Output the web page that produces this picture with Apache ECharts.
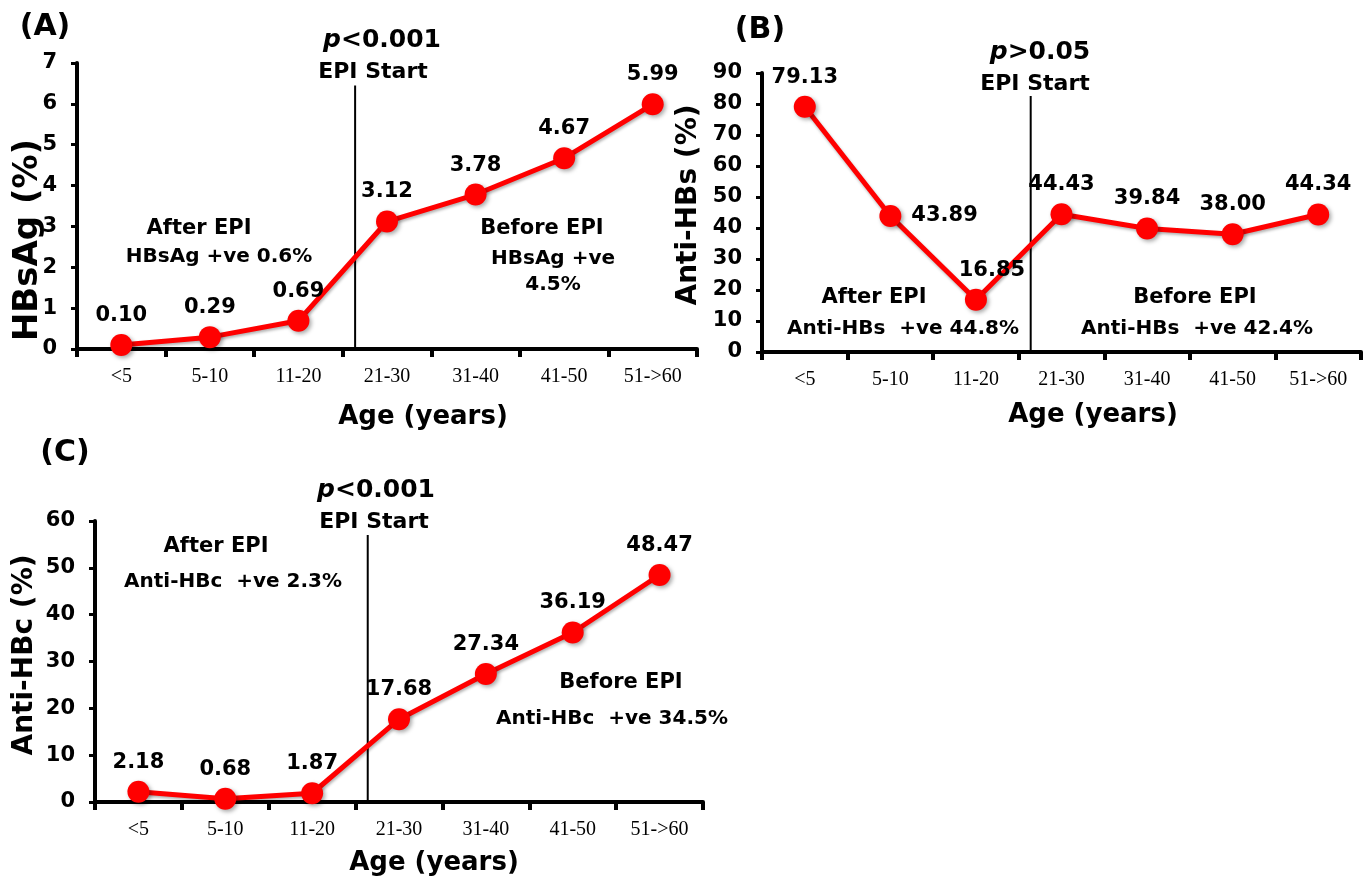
<!DOCTYPE html>
<html>
<head>
<meta charset="utf-8">
<script src="https://cdn.jsdelivr.net/npm/echarts@6/dist/echarts.min.js"></script>
<style>
html,body{margin:0;padding:0;background:#fff;}
#chart{width:1364px;height:878px;}
</style>
</head>
<body>
<div id="chart"></div>
<script>
// ---- data ----
const ageGroups = ['<5', '5-10', '11-20', '21-30', '31-40', '41-50', '51->60'];
const hbsag    = [0.10, 0.29, 0.69, 3.12, 3.78, 4.67, 5.99];
const antiHbs  = [79.13, 43.89, 16.85, 44.43, 39.84, 38.00, 44.34];
const antiHbc  = [2.18, 0.68, 1.87, 17.68, 27.34, 36.19, 48.47];
const yTicksA  = { min: 0, max: 7, interval: 1 };
const yTicksB  = { min: 0, max: 90, interval: 10 };
const yTicksC  = { min: 0, max: 60, interval: 10 };
// EPI start marker position, in category units, and top of marker line (axis units)
const epiPos   = 2.64;
const epiTop   = [6.45, 82.6, 57];

const BOLD = '"DejaVu Sans", sans-serif';
const RED = '#ff0000';

const chart = echarts.init(document.getElementById('chart'), null, { renderer: 'canvas' });

const grids = [
  { left: 77, top: 63, width: 620, height: 286 },
  { left: 762, top: 73, width: 599, height: 279 },
  { left: 95, top: 521, width: 608, height: 281 }
];

function catAxis(gi) {
  return {
    type: 'category', gridIndex: gi, data: ageGroups, boundaryGap: true,
    axisLine: { onZero: false, lineStyle: { color: '#000', width: 4 } },
    axisTick: { show: true, length: 8, lineStyle: { color: '#000', width: 4 } },
    axisLabel: { color: '#000', fontFamily: '"Liberation Serif", "Times New Roman", serif', fontSize: 20, margin: 18 },
    splitLine: { show: false }
  };
}
function hiddenX(gi) {
  return { type: 'value', gridIndex: gi, min: -0.5, max: 6.5, show: false };
}
function valAxis(gi, t) {
  return {
    type: 'value', gridIndex: gi, min: t.min, max: t.max, interval: t.interval,
    axisLine: { show: true, onZero: false, lineStyle: { color: '#000', width: 4 } },
    axisTick: { show: true, length: 6, lineStyle: { color: '#000', width: 3 } },
    axisLabel: { color: '#000', fontFamily: BOLD, fontWeight: 'bold', fontSize: 21, margin: 20 },
    splitLine: { show: false }
  };
}

const labelStyle = {
  show: true, position: 'top', distance: 8, color: '#000',
  fontFamily: BOLD, fontWeight: 'bold', fontSize: 21,
  formatter: p => Number(p.value).toFixed(2)
};

function dataSeries(gi, values, overrides) {
  return {
    type: 'line', xAxisIndex: gi * 2, yAxisIndex: gi,
    data: values.map((v, i) => overrides && overrides[i] ? { value: v, label: overrides[i] } : v),
    symbol: 'circle', symbolSize: 22,
    lineStyle: { color: RED, width: 5, shadowColor: 'rgba(0,0,0,0.3)', shadowBlur: 3, shadowOffsetX: 1, shadowOffsetY: 2 },
    itemStyle: { color: RED, shadowColor: 'rgba(0,0,0,0.35)', shadowBlur: 4, shadowOffsetX: 2, shadowOffsetY: 2 },
    label: labelStyle,
    z: 3, animation: false
  };
}
function epiSeries(gi) {
  return {
    type: 'line', xAxisIndex: gi * 2 + 1, yAxisIndex: gi,
    data: [[epiPos, 0], [epiPos, epiTop[gi]]],
    symbol: 'none', lineStyle: { color: '#000', width: 2 }, silent: true, z: 2, animation: false
  };
}

function txt(text, x, y, size, extra) {
  return Object.assign({
    type: 'text', x: x, y: y, silent: true,
    style: Object.assign({
      text: text, fill: '#000', fontFamily: BOLD, fontWeight: 'bold', fontSize: size,
      align: 'center', verticalAlign: 'middle', textAlign: 'center', textVerticalAlign: 'middle'
    }, extra || {})
  });
}
function ptxt(sign, x, y) {
  return txt('{i|p}' + sign, x, y, 25, {
    rich: { i: { fontFamily: BOLD, fontWeight: 'bold', fontStyle: 'italic', fontSize: 25, fill: '#000' } }
  });
}
function vtxt(text, x, y, size) {
  const t = txt(text, x, y, size);
  t.rotation = Math.PI / 2;
  return t;
}

const option = {
  backgroundColor: '#fff',
  animation: false,
  grid: grids.map(g => Object.assign({ containLabel: false, outerBoundsMode: 'none' }, g)),
  xAxis: [catAxis(0), hiddenX(0), catAxis(1), hiddenX(1), catAxis(2), hiddenX(2)],
  yAxis: [valAxis(0, yTicksA), valAxis(1, yTicksB), valAxis(2, yTicksC)],
  series: [
    dataSeries(0, hbsag),
    epiSeries(0),
    dataSeries(1, antiHbs, { 1: { position: 'right', distance: 10 }, 2: { offset: [16, 0] } }),
    epiSeries(1),
    dataSeries(2, antiHbc),
    epiSeries(2)
  ],
  graphic: [
    // Panel A
    txt('(A)', 45, 27, 30),
    ptxt('<0.001', 382, 40),
    txt('EPI Start', 373, 72, 22),
    txt('After EPI', 199, 229, 21),
    txt('HBsAg +ve 0.6%', 219, 257, 20),
    txt('Before EPI', 542, 229, 21),
    txt('HBsAg +ve', 553, 259, 20),
    txt('4.5%', 553, 285, 20),
    txt('Age (years)', 423, 417, 26),
    vtxt('HBsAg (%)', 28, 240, 34),
    // Panel B
    txt('(B)', 760, 30, 30),
    ptxt('>0.05', 1040, 52),
    txt('EPI Start', 1035, 84, 22),
    txt('After EPI', 874, 298, 21),
    txt('Anti-HBs  +ve 44.8%', 903, 329, 20),
    txt('Before EPI', 1195, 298, 21),
    txt('Anti-HBs  +ve 42.4%', 1197, 329, 20),
    txt('Age (years)', 1093, 415, 26),
    vtxt('Anti-HBs (%)', 689, 205, 28),
    // Panel C
    txt('(C)', 65, 453, 30),
    ptxt('<0.001', 376, 490),
    txt('EPI Start', 374, 522, 22),
    txt('After EPI', 216, 547, 21),
    txt('Anti-HBc  +ve 2.3%', 233, 582, 20),
    txt('Before EPI', 621, 683, 21),
    txt('Anti-HBc  +ve 34.5%', 612, 719, 20),
    txt('Age (years)', 434, 863, 26),
    vtxt('Anti-HBc (%)', 25, 655, 28)
  ]
};
chart.setOption(option);
</script>
</body>
</html>
